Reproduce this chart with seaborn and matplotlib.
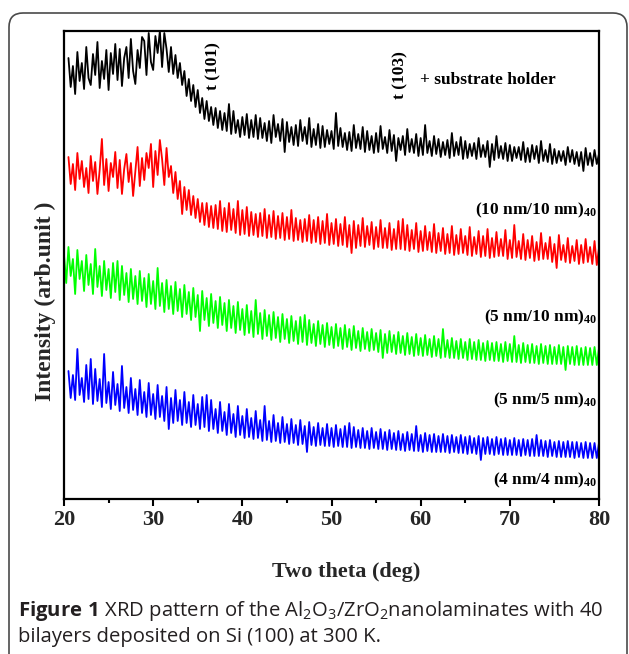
import numpy as np
import pandas as pd
import seaborn as sns
import matplotlib.pyplot as plt
from matplotlib.patches import FancyBboxPatch
from matplotlib.ticker import MultipleLocator

# scan angles (deg), 0.25 deg step
two_theta = np.arange(20.5, 80.001, 0.25)
two_theta_green = np.arange(20.0, 80.001, 0.25)

# intensities (arb. unit)
black_10_10 = [
    441, 412,
    433, 405, 447, 418, 436, 410, 452, 421,
    414, 445, 424, 457, 411, 438, 420, 449,
    409, 446, 425, 455, 419, 450, 413, 441,
    452, 421, 460, 428, 415, 449, 431, 462,
    458, 424, 466, 437, 429, 463, 446, 468,
    432, 466, 450, 427, 452, 425, 444, 421,
    436, 414, 428, 403, 420, 398, 414, 392,
    409, 386, 401, 380, 398, 378, 392, 374,
    391, 371, 388, 369, 386, 368, 395, 365,
    388, 366, 379, 362, 382, 364, 385, 361,
    379, 362, 384, 360, 381, 361, 376, 358,
    378, 356, 384, 362, 375, 358, 380, 347,
    377, 357, 372, 354, 374, 353, 379, 358,
    372, 355, 381, 352, 370, 354, 375, 351,
    373, 352, 369, 355, 368, 350, 386, 353,
    371, 352, 366, 349, 367, 348, 374, 351,
    365, 350, 372, 347, 368, 349, 363, 346,
    366, 347, 373, 350, 362, 346, 369, 348,
    364, 338, 361, 349, 363, 344, 370, 347,
    360, 346, 365, 343, 361, 344, 374, 346,
    358, 343, 363, 345, 360, 342, 357, 344,
    359, 341, 366, 343, 357, 344, 362, 340,
    358, 341, 355, 343, 356, 340, 361, 342,
    354, 342, 358, 332, 355, 339, 363, 341,
    353, 340, 356, 338, 354, 338, 352, 341,
    352, 339, 357, 337, 351, 337, 354, 340,
    353, 336, 358, 338, 349, 337, 355, 335,
    350, 336, 348, 338, 348, 334, 352, 337,
    349, 335, 347, 333, 347, 328, 351, 334,
    346, 333, 349, 335,
    345,
]
red_5_10 = [
    342, 315,
    335, 309, 346, 320, 338, 312, 331, 306,
    343, 318, 337, 305, 329, 360, 314, 340,
    308, 336, 322, 347, 311, 339, 305, 330,
    345, 317, 336, 303, 328, 352, 313, 341,
    319, 346, 331, 355, 312, 348, 324, 359,
    340, 314, 351, 322, 333, 306, 327, 300,
    318, 285, 312, 289, 309, 284, 303, 281,
    300, 277, 296, 274, 296, 272, 293, 271,
    294, 270, 298, 268, 291, 267, 296, 269,
    290, 266, 298, 264, 289, 265, 292, 263,
    287, 264, 285, 262, 286, 263, 290, 261,
    284, 262, 288, 260, 283, 261, 286, 259,
    282, 260, 289, 258, 281, 259, 279, 257,
    280, 258, 284, 256, 279, 257, 282, 255,
    278, 256, 285, 254, 276, 255, 280, 253,
    275, 254, 282, 252, 274, 246, 278, 251,
    274, 253, 281, 252, 273, 254, 277, 250,
    272, 252, 279, 251, 271, 251, 276, 249,
    270, 250, 278, 250, 280, 249, 274, 248,
    269, 250, 276, 247, 268, 248, 273, 249,
    267, 247, 275, 246, 266, 248, 271, 245,
    265, 246, 273, 244, 264, 245, 270, 246,
    263, 244, 272, 243, 262, 245, 268, 242,
    263, 243, 270, 241, 261, 242, 267, 243,
    260, 243, 269, 240, 259, 241, 274, 242,
    258, 240, 265, 239, 259, 241, 263, 238,
    257, 239, 266, 240, 256, 240, 262, 237,
    255, 231, 264, 239, 254, 237, 261, 236,
    253, 238, 259, 235, 254, 236, 260, 237,
    252, 235, 258, 234,
    251,
]
green_5_5 = [
    244, 216, 252, 223, 240, 205, 249, 220,
    238, 208, 244, 214, 235, 205, 250, 212,
    233, 203, 238, 209, 230, 201, 236, 207,
    238, 199, 233, 204, 226, 197, 230, 200,
    223, 195, 228, 198, 221, 192, 225, 195,
    218, 190, 231, 193, 216, 187, 219, 190,
    213, 185, 217, 188, 210, 182, 214, 185,
    207, 179, 211, 182, 204, 168, 208, 179,
    201, 173, 205, 176, 198, 171, 202, 174,
    196, 168, 199, 171, 193, 166, 197, 169,
    190, 164, 194, 166, 188, 162, 199, 165,
    186, 160, 189, 163, 184, 159, 187, 161,
    182, 157, 185, 160, 180, 156, 183, 158,
    178, 155, 182, 157, 184, 154, 179, 156,
    175, 153, 178, 155, 174, 152, 176, 154,
    172, 151, 175, 153, 171, 150, 174, 152,
    170, 149, 173, 151, 168, 148, 171, 150,
    167, 148, 170, 149, 166, 147, 169, 141,
    165, 146, 168, 147, 164, 145, 167, 146,
    163, 144, 166, 145, 162, 143, 165, 144,
    161, 143, 164, 144, 160, 142, 163, 143,
    160, 141, 170, 142, 159, 141, 161, 141,
    158, 140, 160, 141, 157, 139, 160, 140,
    157, 139, 159, 139, 156, 138, 158, 139,
    156, 138, 157, 138, 155, 137, 157, 138,
    155, 137, 163, 137, 154, 136, 156, 137,
    154, 136, 155, 136, 153, 135, 155, 136,
    153, 135, 154, 135, 152, 135, 154, 135,
    152, 129, 153, 135, 152, 134, 153, 134,
    151, 134, 152, 134, 151, 134, 152, 134,
    151,
]
blue_4_4 = [
    128, 101,
    124, 99, 150, 104, 121, 97, 134, 100,
    140, 95, 130, 98, 120, 92, 145, 96,
    117, 90, 127, 94, 115, 88, 133, 91,
    112, 86, 121, 89, 110, 84, 119, 86,
    107, 82, 116, 84, 105, 80, 114, 82,
    103, 78, 112, 70, 101, 76, 109, 78,
    99, 74, 107, 76, 97, 72, 104, 74,
    95, 70, 102, 72, 104, 68, 99, 70,
    90, 66, 97, 68, 87, 64, 95, 66,
    85, 62, 93, 64, 83, 61, 90, 62,
    81, 60, 88, 61, 79, 58, 93, 59,
    78, 57, 84, 58, 76, 56, 82, 57,
    75, 55, 80, 56, 74, 54, 79, 55,
    73, 47, 77, 54, 72, 53, 76, 54,
    71, 53, 75, 53, 71, 52, 74, 53,
    70, 52, 73, 52, 76, 51, 72, 52,
    69, 51, 71, 51, 68, 50, 71, 51,
    67, 50, 70, 50, 67, 49, 69, 50,
    66, 49, 68, 49, 65, 48, 67, 49,
    65, 48, 73, 48, 64, 47, 66, 48,
    64, 47, 65, 47, 63, 47, 65, 47,
    63, 46, 64, 47, 62, 46, 64, 46,
    62, 45, 63, 46, 61, 45, 63, 39,
    61, 45, 62, 45, 60, 44, 62, 45,
    60, 44, 61, 44, 59, 44, 61, 44,
    59, 43, 60, 44, 59, 43, 60, 43,
    64, 43, 59, 43, 58, 42, 59, 43,
    57, 42, 58, 42, 57, 42, 58, 42,
    57, 41, 57, 42, 56, 41, 57, 41,
    56, 41, 56, 41,
    56,
]

sample_names = ["10/10", "5/10", "5/5", "4/4"]
sample_labels = [r"(10 nm/10 nm)$_{40}$", r"(5 nm/10 nm)$_{40}$",
                 r"(5 nm/5 nm)$_{40}$", r"(4 nm/4 nm)$_{40}$"]
line_colors = ["#000000", "#ff0000", "#00ff00", "#0000ff"]

df = pd.concat([
    pd.DataFrame({"two_theta": two_theta, "intensity": black_10_10, "sample": "10/10"}),
    pd.DataFrame({"two_theta": two_theta, "intensity": red_5_10, "sample": "5/10"}),
    pd.DataFrame({"two_theta": two_theta_green, "intensity": green_5_5, "sample": "5/5"}),
    pd.DataFrame({"two_theta": two_theta, "intensity": blue_4_4, "sample": "4/4"}),
], ignore_index=True)

sns.set_theme(style="white")
plt.rcParams["font.family"] = ["Liberation Serif", "DejaVu Serif"]
plt.rcParams["mathtext.fontset"] = "custom"
plt.rcParams["mathtext.default"] = "regular"
plt.rcParams["mathtext.bf"] = "Open Sans:bold"

fig = plt.figure(figsize=(6.29, 6.54), dpi=100)
ax = fig.add_axes([64 / 629, 1 - 499 / 654, 535 / 629, 468 / 654])

sns.lineplot(data=df, x="two_theta", y="intensity", hue="sample",
             palette=dict(zip(sample_names, line_colors)), estimator=None,
             sort=False, lw=1.3, legend=False, ax=ax)

ax.set_xlim(20, 80)
ax.set_ylim(0, 468)
ax.set_yticks([])
ax.set_xlabel("")
ax.set_ylabel("")
ax.xaxis.set_major_locator(MultipleLocator(10))
ax.xaxis.set_minor_locator(MultipleLocator(5))
ax.tick_params(axis="x", which="major", direction="out", length=5, width=1.5,
               color="black", labelsize=16, pad=3, bottom=True)
ax.tick_params(axis="x", which="minor", direction="out", length=3, width=1.5,
               color="black", bottom=True)
for lbl in ax.get_xticklabels():
    lbl.set_fontweight("bold")
for sp in ax.spines.values():
    sp.set_color("black")
    sp.set_linewidth(1.6)

# peak marks and sample labels
txt = dict(fontsize=12.5, fontweight="bold", color="black")
ax.text(36.8, 433, "t (101)", rotation=90, ha="center", va="center", **txt)
ax.text(57.7, 424, "t (103)", rotation=90, ha="center", va="center", **txt)
ax.text(59.9, 419, "+ substrate holder", ha="left", va="center", **txt)
for lab, yb in zip(sample_labels, [285, 178, 95, 15]):
    ax.text(79.8, yb, lab, ha="right", va="baseline", **txt)

fig.text(346 / 629, 1 - 572 / 654, "Two theta (deg)", ha="center", va="center",
         fontsize=16, fontweight="bold")
fig.text(45 / 629, 1 - 301 / 654, "Intensity (arb.unit )", rotation=90,
         ha="center", va="center", fontsize=17, fontweight="bold")

# caption
cap = dict(fontsize=14.6, color="#231f20", family=["Open Sans", "DejaVu Sans"],
           ha="left", va="baseline")
fig.text(18 / 629, 1 - 616 / 654,
         r"$\mathbf{Figure\ 1}$ XRD pattern of the Al$_2$O$_3$/ZrO$_2$nanolaminates with 40",
         **cap)
fig.text(18 / 629, 1 - 642 / 654, "bilayers deposited on Si (100) at 300 K.", **cap)

# rounded frame around the figure panel
frame = FancyBboxPatch((0.09, -0.3), 6.18, 6.71,
                       boxstyle="round,pad=0,rounding_size=0.14",
                       transform=fig.dpi_scale_trans, fill=False,
                       edgecolor="#4a4a4a", lw=1.2)
fig.add_artist(frame)

fig.savefig("out.png", dpi=100)
